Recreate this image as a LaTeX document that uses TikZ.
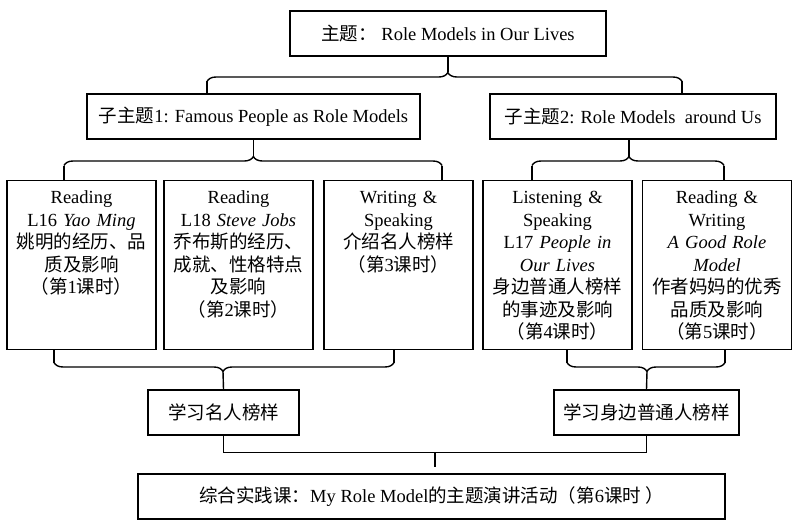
\documentclass[tikz,border=0pt]{standalone}
\usepackage{fontspec}
\setmainfont{Liberation Serif}
\newfontfamily\cjk{Noto Sans CJK SC}
\usetikzlibrary{decorations.pathreplacing}
\tikzset{
  rmline/.style={line width=1.4pt, draw=black},
  rmbox/.style={rmline, minimum height=45pt, inner sep=0pt, font=\fontsize{18.5pt}{22.5pt}\selectfont},
  rmlesson/.style={rmline, anchor=north, text width=143pt, inner xsep=3pt, inner ysep=0pt, align=center, text height=23pt, text depth=146pt, font=\fontsize{18.5pt}{22.5pt}\selectfont},
  rmbraceup/.style={rmline, decorate, decoration={brace, amplitude=9pt, aspect=#1}},
  rmbracedown/.style={rmline, decorate, decoration={brace, amplitude=9pt, mirror, aspect=#1}},
}

\begin{document}
\begin{tikzpicture}[x=1pt, y=-1pt]
\useasboundingbox (0,0) rectangle (800,532);

% theme and sub-themes
\node[rmbox, minimum width=316pt] (theme) at (448,33.5) {{\cjk 主题：} Role Models in Our Lives};
\node[rmbox, minimum width=333pt] (subA) at (253.5,116.5) {{\cjk 子主题}1: Famous People as Role Models};
\node[rmbox, minimum width=286pt] (subB) at (633,116.5) {{\cjk 子主题}2: Role Models\ \ around Us};

% lessons
\node[rmlesson] (lesA) at (81.5,180) {Reading\\ L16 \textit{Yao Ming}\\ {\cjk 姚明的经历、品}\\ {\cjk 质及影响}\\ {\cjk （第}1{\cjk 课时）}};
\node[rmlesson] (lesB) at (238.5,180) {Reading\\ L18 \textit{Steve Jobs}\\ {\cjk 乔布斯的经历、}\\ {\cjk 成就、性格特点}\\ {\cjk 及影响}\\ {\cjk （第}2{\cjk 课时）}};
\node[rmlesson] (lesC) at (398.5,180) {Writing \&\\ Speaking\\ {\cjk 介绍名人榜样}\\ {\cjk （第}3{\cjk 课时）}};
\node[rmlesson] (lesD) at (557.5,180) {Listening \&\\ Speaking\\ L17 \textit{People in}\\ \textit{Our Lives}\\ {\cjk 身边普通人榜样}\\ {\cjk 的事迹及影响}\\ {\cjk （第}4{\cjk 课时）}};
\node[rmlesson] (lesE) at (717,180) {Reading \&\\ Writing\\ \textit{A Good Role}\\ \textit{Model}\\ {\cjk 作者妈妈的优秀}\\ {\cjk 品质及影响}\\ {\cjk （第}5{\cjk 课时）}};

% summaries
\node[rmbox, minimum width=151pt] (sumA) at (223.5,412.5) {{\cjk 学习名人榜样}};
\node[rmbox, minimum width=185pt] (sumB) at (646.5,412.5) {{\cjk 学习身边普通人榜样}};
\node[rmbox, minimum width=587pt] (final) at (431.5,496.5) {{\cjk 综合实践课：}My Role Model{\cjk 的主题演讲活动（第}6{\cjk 课时 ）}};

% brace ends
\coordinate (tL) at (207,81.5);
\coordinate (tR) at (682,81.5);
\coordinate (aL) at (64,165.5);
\coordinate (aR) at (442,165.5);
\coordinate (bL) at (532,165.5);
\coordinate (bR) at (724,165.5);
\coordinate (cL) at (54,362.5);
\coordinate (cR) at (394,362.5);
\coordinate (dL) at (567,362.5);
\coordinate (dR) at (725,362.5);

% theme -> sub-themes
\draw[rmbraceup=0.507] (tL) -- (tR);
\draw[rmline] (theme.south) -- (448,72.5);
\draw[rmline] (tL) -- (tL |- subA.north);
\draw[rmline] (tR) -- (tR |- subB.north);

% sub-themes -> lessons
\draw[rmbraceup=0.501] (aL) -- (aR);
\draw[rmline] (subA.south) -- (253.5,156.5);
\draw[rmline] (aL) -- (aL |- lesA.north);
\draw[rmline] (aR) -- (aR |- lesC.north);
\draw[rmbraceup=0.505] (bL) -- (bR);
\draw[rmline] (629,139) -- (629,156.5);
\draw[rmline] (bL) -- (bL |- lesD.north);
\draw[rmline] (bR) -- (bR |- lesE.north);

% lessons -> summaries
\draw[rmbracedown=0.497] (cL) -- (cR);
\draw[rmline] (cL) -- (cL |- lesA.south);
\draw[rmline] (cR) -- (cR |- lesC.south);
\draw[rmline] (223,371.5) -- (sumA.north);
\draw[rmbracedown=0.506] (dL) -- (dR);
\draw[rmline] (dL) -- (dL |- lesD.south);
\draw[rmline] (dR) -- (dR |- lesE.south);
\draw[rmline] (647,371.5) -- (sumB.north);

% summaries -> final
\draw[rmline] (sumA.south) -- ++(0,17) -| (sumB.south);
\draw[rmline] (435,452) -- (435,467);
\end{tikzpicture}
\end{document}
